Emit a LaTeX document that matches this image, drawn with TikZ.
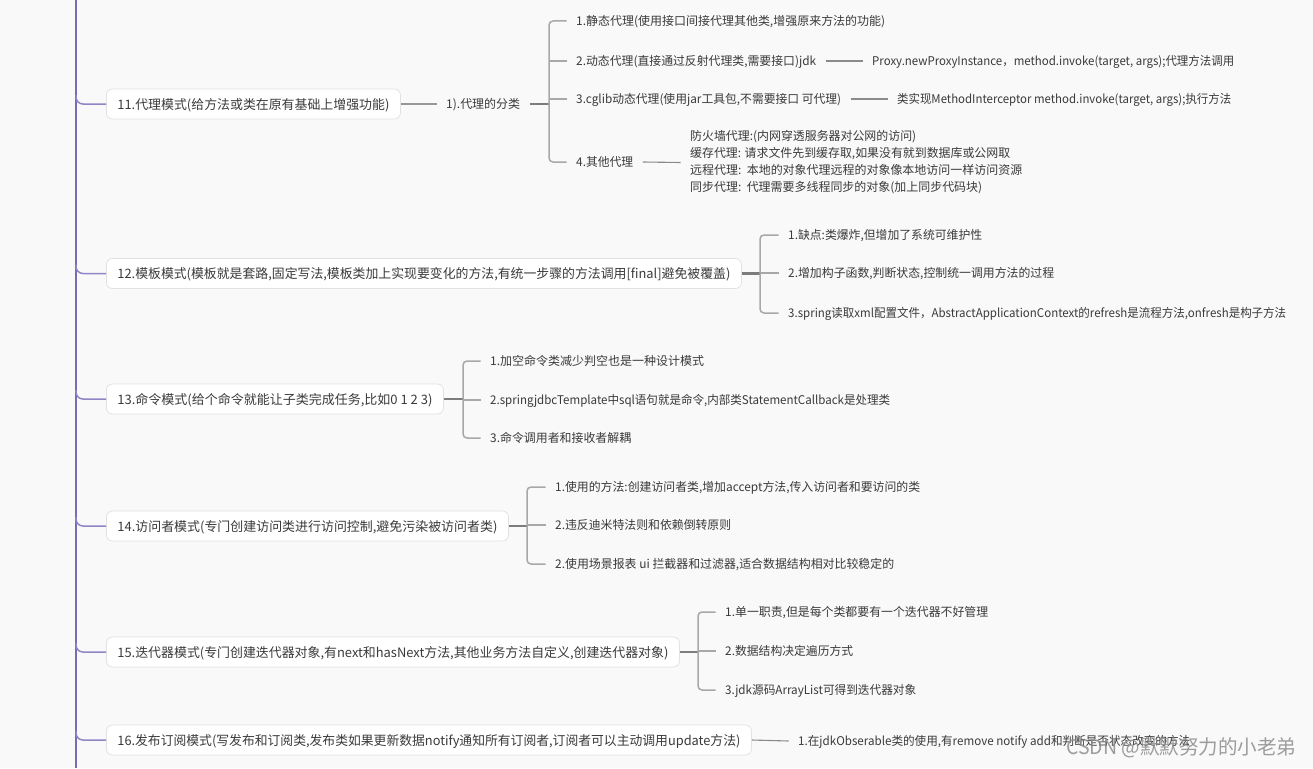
\documentclass[tikz,border=0pt]{standalone}
\usepackage{fontspec}
\setmainfont{Noto Sans CJK SC}
\usepackage{graphicx}
\definecolor{bg}{HTML}{F9F9F9}
\definecolor{txt}{HTML}{3A3A3A}
\definecolor{spinec}{RGB}{122,108,180}
\definecolor{branchc}{RGB}{145,133,198}
\definecolor{boxc}{HTML}{E2E2E2}
\definecolor{trunkc}{HTML}{7C7C7C}
\definecolor{brkc}{HTML}{A8A8A8}
\definecolor{linkc}{HTML}{8A8A8A}
\newcommand{\fw}[2]{\resizebox{#1pt}{\height}{#2}}
\tikzset{
  box/.style={draw=boxc, fill=white, rounded corners=6pt, line width=0.8pt, anchor=west,
    minimum height=30pt, inner xsep=11pt, inner ysep=0pt, text=txt,
    font=\fontsize{13}{15}\selectfont, text height=11.5pt, text depth=1.5pt},
  kid/.style={anchor=west, inner xsep=9.5pt, inner ysep=0pt, text=txt,
    font=\fontsize{12}{14}\selectfont, text height=10.5pt, text depth=1.5pt},
  blk/.style={anchor=west, inner xsep=9.5pt, inner ysep=0pt, text=txt, align=left,
    font=\fontsize{12}{17}\selectfont},
  spine/.style={draw=spinec, line width=2pt},
  branch/.style={draw=branchc, line width=1.5pt, rounded corners=7pt},
  trunk/.style={draw=trunkc, line width=2.2pt},
  brk/.style={draw=brkc, line width=1.5pt, rounded corners=4pt},
  link/.style={draw=linkc, line width=1.1pt},
}
\begin{document}
\begin{tikzpicture}[x=1pt,y=-1pt]
\useasboundingbox (0,0) rectangle (1313,768);
\fill[bg] (0,0) rectangle (1313,768);

% spine
\coordinate (sTop) at (76,0);
\coordinate (sBot) at (76,768);
\draw[spine] (sTop) -- (sBot);

% boxes
\node[box] (B11) at (106,104) {\fw{272}{11.代理模式(给方法或类在原有基础上增强功能)}};
\node[box] (B12) at (106,273.5) {\fw{613}{12.模板模式(模板就是套路,固定写法,模板类加上实现要变化的方法,有统一步骤的方法调用[final]避免被覆盖)}};
\node[box] (B13) at (106,399) {\fw{315}{13.命令模式(给个命令就能让子类完成任务,比如0 1 2 3)}};
\node[box] (B14) at (106,526) {\fw{380}{14.访问者模式(专门创建访问类进行访问控制,避免污染被访问者类)}};
\node[box] (B15) at (106,652) {\fw{551}{15.迭代器模式(专门创建迭代器对象,有next和hasNext方法,其他业务方法自定义,创建迭代器对象)}};
\node[box] (B16) at (106,740) {\fw{623}{16.发布订阅模式(写发布和订阅类,发布类如果更新数据notify通知所有订阅者,订阅者可以主动调用update方法)}};

% branches from spine
\foreach \b/\y in {B11/104,B12/273.5,B13/399,B14/526,B15/652,B16/740}{
  \coordinate (t\b) at (76,\y-9);
  \draw[branch] (t\b) |- (\b.west);
}

% ---- 11
\node[kid] (cls) at (436.5,104) {\fw{74}{1).代理的分类}};
\coordinate (b11) at (549,104);
\node[kid] (p1) at (566.5,21) {\fw{309}{1.静态代理(使用接口间接代理其他类,增强原来方法的功能)}};
\node[kid] (p2) at (566.5,61) {\fw{240}{2.动态代理(直接通过反射代理类,需要接口)jdk}};
\node[kid] (p3) at (566.5,99) {\fw{265}{3.cglib动态代理(使用jar工具包,不需要接口 可代理)}};
\node[kid] (p4) at (566.5,162) {\fw{57}{4.其他代理}};
\node[kid] (p2b) at (862.5,61) {\fw{362}{Proxy.newProxyInstance，method.invoke(target, args);代理方法调用}};
\node[kid] (p3b) at (887.5,99) {\fw{334}{类实现MethodInterceptor method.invoke(target, args);执行方法}};
\node[blk] (p4b) at (680.5,162.5) {\fw{226}{防火墙代理:(内网穿透服务器对公网的访问)}\\
  \fw{320}{缓存代理: 请求文件先到缓存取,如果没有就到数据库或公网取}\\
  \fw{332}{远程代理:\ \ 本地的对象代理远程的对象像本地访问一样访问资源}\\
  \fw{292}{同步代理:\ \ 代理需要多线程同步的对象(加上同步代码块)}};
\draw[link, line width=1.4pt, draw=brkc!90!black] (B11.east) -- (cls.west);
\draw[trunk] (cls.east) -- (b11);
\draw[brk] (p1.west) -| (b11) |- (p4.west);
\draw[brk] (p2.west) -- (p2.west -| b11);
\draw[brk] (p3.west) -- (p3.west -| b11);
\draw[link] (p2.east) -- (p2b.west);
\draw[link] (p3.east) -- (p3b.west);
\draw[link] (p4.east) -- (p4b.west);

% ---- 12
\coordinate (b12) at (760,273.5);
\node[kid] (t1) at (778.5,235) {\fw{194}{1.缺点:类爆炸,但增加了系统可维护性}};
\node[kid] (t2) at (778.5,273) {\fw{266}{2.增加构子函数,判断状态,控制统一调用方法的过程}};
\node[kid] (t3) at (778.5,313) {\fw{498}{3.spring读取xml配置文件，AbstractApplicationContext的refresh是流程方法,onfresh是构子方法}};
\draw[trunk] (B12.east) -- (b12);
\draw[brk] (t1.west) -| (b12) |- (t3.west);
\draw[brk] (t2.west) -- (t2.west -| b12);

% ---- 13
\coordinate (b13) at (463,399);
\node[kid] (c1) at (480.5,361) {\fw{214}{1.加空命令类减少判空也是一种设计模式}};
\node[kid] (c2) at (480.5,400) {\fw{400}{2.springjdbcTemplate中sql语句就是命令,内部类StatementCallback是处理类}};
\node[kid] (c3) at (480.5,438) {\fw{141}{3.命令调用者和接收者解耦}};
\draw[trunk] (B13.east) -- (b13);
\draw[brk] (c1.west) -| (b13) |- (c3.west);
\draw[brk] (c2.west) -- (c2.west -| b13);

% ---- 14
\coordinate (b14) at (527,526);
\node[kid] (v1) at (545.5,487) {\fw{365}{1.使用的方法:创建访问者类,增加accept方法,传入访问者和要访问的类}};
\node[kid] (v2) at (545.5,525) {\fw{176}{2.违反迪米特法则和依赖倒转原则}};
\node[kid] (v3) at (545.5,564) {\fw{339}{2.使用场景报表 ui 拦截器和过滤器,适合数据结构相对比较稳定的}};
\draw[trunk] (B14.east) -- (b14);
\draw[brk] (v1.west) -| (b14) |- (v3.west);
\draw[brk] (v2.west) -- (v2.west -| b14);

% ---- 15
\coordinate (b15) at (698,652);
\node[kid] (i1) at (715.5,612) {\fw{263}{1.单一职责,但是每个类都要有一个迭代器不好管理}};
\node[kid] (i2) at (715.5,651) {\fw{128}{2.数据结构决定遍历方式}};
\node[kid] (i3) at (715.5,690) {\fw{191}{3.jdk源码ArrayList可得到迭代器对象}};
\draw[trunk] (B15.east) -- (b15);
\draw[brk] (i1.west) -| (b15) |- (i3.west);
\draw[brk] (i2.west) -- (i2.west -| b15);

% ---- 16
\node[kid] (s1) at (788.5,741) {\fw{392}{1.在jdkObserable类的使用,有remove notify add和判断是否状态改变的方法}};
\draw[link] (B16.east) -- (s1.west);

% watermark
\node[anchor=west, inner sep=0pt, text=black!45, opacity=0.85,
  font=\fontsize{20}{22}\selectfont] (wm) at (1066,748) {\fw{230}{CSDN @默默努力的小老弟}};
\end{tikzpicture}
\end{document}
